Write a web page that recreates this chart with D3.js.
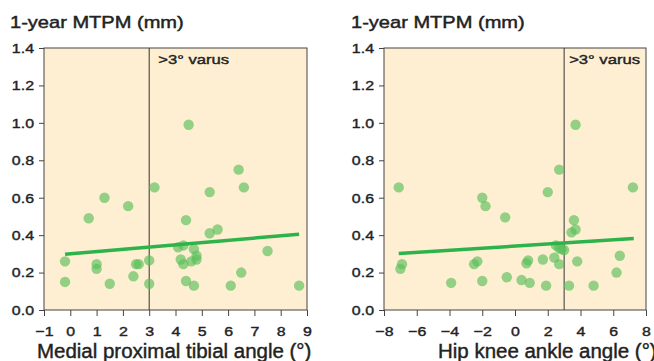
<!DOCTYPE html>
<html>
<head>
<meta charset="utf-8">
<script src="https://cdn.jsdelivr.net/npm/d3@7"></script>
<style>
  html, body { margin: 0; padding: 0; background: #fff; }
  svg { display: block; font-family: "Liberation Sans", Arial, sans-serif; }
  svg text { stroke: #222; stroke-width: 0.4px; }
</style>
</head>
<body>
<div id="chart"></div>
<script>
// values
const yTicks = [0, 0.2, 0.4, 0.6, 0.8, 1.0, 1.2, 1.4]
const mptaTicks = [-1, 0, 1, 2, 3, 4, 5, 6, 7, 8, 9]
const hkaTicks = [-8, -6, -4, -2, 0, 2, 4, 6, 8]

const mptaX = [-0.2, -0.2, 0.7, 1.3, 1.0, 1.0, 1.5, 2.2, 2.4, 2.5, 2.6, 3.0, 3.0, 3.2, 4.1, 4.3, 4.4, 4.2,
  4.3, 4.4, 4.7, 4.6, 4.8, 4.8, 4.7, 5.3, 5.3, 5.6, 6.1, 6.5, 6.6, 7.5, 8.7, 4.5, 6.4]
const mptaY = [0.26, 0.15, 0.49, 0.60, 0.245, 0.22, 0.14, 0.555, 0.18, 0.245, 0.245, 0.265, 0.14, 0.655, 0.335, 0.345, 0.48, 0.27,
  0.245, 0.155, 0.325, 0.26, 0.29, 0.27, 0.13, 0.63, 0.41, 0.43, 0.13, 0.20, 0.655, 0.315, 0.13, 0.99, 0.75]

const hkaX = [-7.1, -6.9, -7.0, -3.9, -2.5, -2.3, -2.0, -1.8, -2.0, -0.6, -0.5, 0.4, 0.8, 0.7, 0.9, 1.7, 1.9, 2.0,
  2.4, 2.5, 2.7, 2.7, 2.85, 3.0, 3.3, 3.45, 3.6, 3.7, 3.8, 4.8, 6.2, 6.4, 7.2, 3.7, 2.7]
const hkaY = [0.655, 0.245, 0.22, 0.145, 0.245, 0.26, 0.60, 0.555, 0.155, 0.495, 0.175, 0.16, 0.265, 0.25, 0.145, 0.27, 0.13, 0.63,
  0.28, 0.345, 0.33, 0.245, 0.325, 0.32, 0.13, 0.415, 0.48, 0.43, 0.26, 0.13, 0.20, 0.29, 0.655, 0.99, 0.75]

const mptaFitX = [-0.2, 8.7]
const mptaFitY = [0.298, 0.405]
const hkaFitX = [-7.1, 7.25]
const hkaFitY = [0.302, 0.382]

const width = 654
const height = 361

const svg = d3.select("#chart").append("svg")
  .attr("width", width)
  .attr("height", height)

// the source text is wider than Liberation Sans, so stretch it sideways
function stretch(sel, s) {
  sel.each(function () {
    const t = d3.select(this)
    const x = +t.attr("x") || 0
    const y = +t.attr("y") || 0
    t.attr("x", 0).attr("y", 0)
      .attr("transform", `translate(${x},${y}) scale(${s},1)`)
  })
}

function drawPanel(opts) {
  const xScale = d3.scaleLinear().domain(opts.xDomain).range([opts.left, opts.right])
  const yScale = d3.scaleLinear().domain([0, 1.4]).range([310, 48])
  const g = svg.append("g")

  g.append("rect")
    .attr("x", opts.left)
    .attr("y", yScale(1.4))
    .attr("width", opts.right - opts.left)
    .attr("height", yScale(0) - yScale(1.4))
    .attr("fill", "#feefd3")

  g.append("line")
    .attr("x1", xScale(3)).attr("x2", xScale(3))
    .attr("y1", yScale(1.4)).attr("y2", yScale(0))
    .attr("stroke", "#333")
    .attr("stroke-width", 1)

  const pts = opts.xs.map((x, i) => ({ x, y: opts.ys[i] }))
  g.append("g").selectAll("circle")
    .data(pts)
    .join("circle")
      .attr("cx", d => xScale(d.x))
      .attr("cy", d => yScale(d.y))
      .attr("r", 5.2)
      .attr("fill", "#5bbf5b")
      .attr("fill-opacity", 0.66)

  g.append("line")
    .attr("x1", xScale(opts.fitX[0])).attr("x2", xScale(opts.fitX[1]))
    .attr("y1", yScale(opts.fitY[0])).attr("y2", yScale(opts.fitY[1]))
    .attr("stroke", "#2db34a")
    .attr("stroke-width", 3.5)

  g.append("rect")
    .attr("x", opts.left)
    .attr("y", yScale(1.4))
    .attr("width", opts.right - opts.left)
    .attr("height", yScale(0) - yScale(1.4))
    .attr("fill", "none")
    .attr("stroke", "#444")
    .attr("stroke-width", 1)

  const yAxis = g.append("g")
    .attr("transform", `translate(${opts.left},0)`)
    .call(d3.axisLeft(yScale).tickValues(yTicks).tickFormat(d3.format(".1f")).tickSize(5).tickPadding(5))
  const xAxis = g.append("g")
    .attr("transform", `translate(0,${yScale(0)})`)
    .call(d3.axisBottom(xScale).tickValues(opts.xTicks).tickFormat(d3.format("d")).tickSize(6).tickPadding(10))

  for (const ax of [yAxis, xAxis]) {
    ax.select(".domain").remove()
    ax.selectAll(".tick line").attr("stroke", "#444")
    ax.selectAll(".tick text")
      .attr("fill", "#222")
      .style("font-size", "13.5px")
    stretch(ax.selectAll(".tick text"), 1.18)
  }

  const varus = g.append("text")
    .attr("x", xScale(3) + opts.varusGap)
    .attr("y", 64)
    .attr("fill", "#222")
    .style("font-size", "13px")
    .text(">3° varus")
  stretch(varus, 1.28)

  const title = g.append("text")
    .attr("x", opts.titleX)
    .attr("y", 27.5)
    .attr("fill", "#222")
    .style("font-size", "17px")
    .style("stroke-width", "0.45px")
    .text("1-year MTPM (mm)")
  stretch(title, 1.18)

  const xLabel = g.append("text")
    .attr("x", opts.labelX)
    .attr("y", 357.5)
    .attr("fill", "#222")
    .style("font-size", "19.5px")
    .text(opts.label)
  stretch(xLabel, 1.05)
}

drawPanel({
  left: 44, right: 307, xDomain: [-1, 9], xTicks: mptaTicks,
  xs: mptaX, ys: mptaY, fitX: mptaFitX, fitY: mptaFitY,
  varusGap: 9, titleX: 10, labelX: 37,
  label: "Medial proximal tibial angle (°)"
})

drawPanel({
  left: 384, right: 646, xDomain: [-8, 8], xTicks: hkaTicks,
  xs: hkaX, ys: hkaY, fitX: hkaFitX, fitY: hkaFitY,
  varusGap: 5, titleX: 351, labelX: 438,
  label: "Hip knee ankle angle (°)"
})
</script>
</body>
</html>
